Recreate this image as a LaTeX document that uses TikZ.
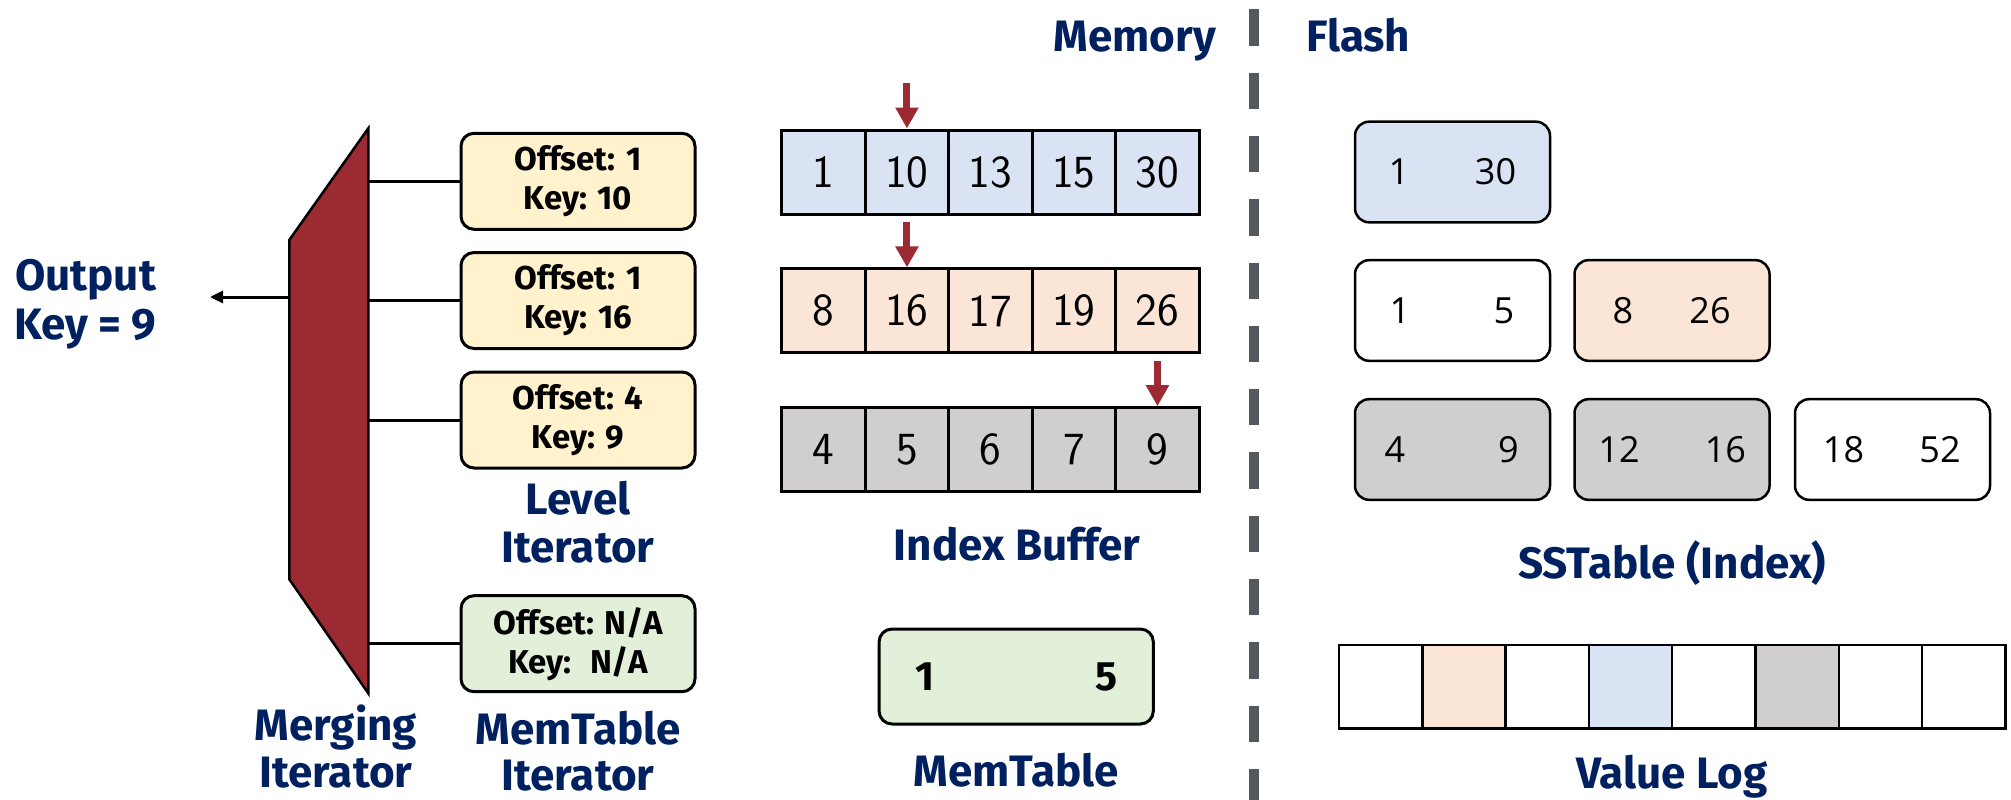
\documentclass[tikz,border=0pt]{standalone}
\usepackage{fontspec}
\setmainfont{Fira Sans}
\newfontfamily\numfont{Open Sans}
\usetikzlibrary{arrows.meta}
\definecolor{navy}{HTML}{002060}
\definecolor{mred}{HTML}{9C2A32}
\definecolor{blueF}{HTML}{DAE3F3}
\definecolor{peachF}{HTML}{FBE5D6}
\definecolor{grayF}{HTML}{D0CECE}
\definecolor{yellowF}{HTML}{FFF2CC}
\definecolor{greenF}{HTML}{E2F0D9}
\definecolor{dashgray}{HTML}{55585C}
\begin{document}
\begin{tikzpicture}[x=1pt,y=-1pt,
  title/.style={font=\bfseries\fontsize{44}{48}\selectfont, text=navy, inner sep=0pt, anchor=base},
  iterbox/.style={draw=black, line width=3pt, rounded corners=13pt, minimum width=234pt,
    minimum height=96pt, align=center, inner sep=0pt, font=\bfseries\fontsize{33}{39}\selectfont},
  cell/.style={draw=black, line width=3pt, minimum width=83.5pt, minimum height=84pt,
    inner sep=0pt, font=\sffamily\fontsize{46}{46}\selectfont},
  sst/.style={draw=black, line width=2.5pt, rounded corners=14pt, minimum width=195pt,
    minimum height=100.6pt, inner sep=0pt},
  sstnum/.style={font=\numfont\fontsize{36}{36}\selectfont, inner sep=0pt},
  memnum/.style={font=\bfseries\fontsize{41}{41}\selectfont, inner sep=0pt},
  vcell/.style={draw=black, line width=2.5pt, minimum width=83.3pt, minimum height=83.3pt, inner sep=0pt},
  redarrow/.style={draw=mred, line width=7pt, -{Triangle[length=21pt,width=22pt]}},
  link/.style={draw=black, line width=3pt}
]
\useasboundingbox (0,0) rectangle (2011,800);

% ---------- memory / flash divider ----------
\coordinate (dvTop) at (1254,9.3);
\coordinate (dvBot) at (1254,800);
\draw[line width=9.3pt, color=dashgray, dash pattern=on 36.3pt off 27pt] (dvTop) -- (dvBot);
\node[title] (memL) at (1135,51.7) {Memory};
\node[title, anchor=base west] (flashL) at (1306,51.7) {Flash};

% ---------- merging iterator ----------
\coordinate (mgTR) at (368.3,128.3);
\coordinate (mgBR) at (368.3,693.3);
\coordinate (mgBL) at (289.3,579.3);
\coordinate (mgTL) at (289.3,240);
\draw[fill=mred, line width=2.5pt, line join=miter] (mgTR) -- (mgBR) -- (mgBL) -- (mgTL) -- cycle;

\coordinate (outStart) at (289.3,297);
\coordinate (outTip) at (210,297);
\draw[link, -{Triangle[length=13pt,width=12pt]}] (outStart) -- (outTip);
\node[title] (outA) at (85.5,290) {Output};
\node[title] (outB) at (85.5,339) {Key = 9};

% ---------- iterators ----------
\node[iterbox, fill=yellowF] (it1) at (578,181.3) {Offset: 1\\Key: 10};
\node[iterbox, fill=yellowF] (it2) at (578,300.5) {Offset: 1\\Key: 16};
\node[iterbox, fill=yellowF] (it3) at (578,420) {Offset: 4\\Key: 9};
\node[iterbox, fill=greenF] (it4) at (578,643.7) {Offset: N/A\\Key:~ N/A};
\foreach \k in {1,2,3,4} \draw[link] (it\k.west -| mgTR) -- (it\k.west);

\node[title] (lvlA) at (578,514) {Level};
\node[title] (lvlB) at (578,562) {Iterator};
\node[title] (mrgA) at (336,740) {Merging};
\node[title] (mrgB) at (336,787) {Iterator};
\node[title] (mtiA) at (578,744) {MemTable};
\node[title] (mtiB) at (578,790) {Iterator};

% ---------- index buffer ----------
\foreach \v [count=\i] in {1,10,13,15,30}
  \node[cell, fill=blueF] (ba\i) at ({781.7+83.5*(\i-0.5)},172) {\v};
\foreach \v [count=\i] in {8,16,17,19,26}
  \node[cell, fill=peachF] (bb\i) at ({781.7+83.5*(\i-0.5)},310.9) {\v};
\foreach \v [count=\i] in {4,5,6,7,9}
  \node[cell, fill=grayF] (bc\i) at ({781.7+83.5*(\i-0.5)},449.7) {\v};

\coordinate (pa) at (906.95,82.7);
\coordinate (pb) at (906.95,221.7);
\coordinate (pc) at (1157.45,360.7);
\draw[redarrow] (pa) -- (ba2.north);
\draw[redarrow] (pb) -- (bb2.north);
\draw[redarrow] (pc) -- (bc5.north);
\node[title] (ibL) at (1017,560) {Index Buffer};

% ---------- memtable ----------
\node[draw=black, line width=3pt, rounded corners=13pt, minimum width=274.3pt, minimum height=95pt,
  fill=greenF] (mt) at (1016.2,676.5) {};
\node[memnum] (mtA) at ([xshift=-91pt]mt.center) {1};
\node[memnum] (mtB) at ([xshift=90.5pt]mt.center) {5};
\node[title] (mtL) at (1016,786.7) {MemTable};

% ---------- sstables ----------
\node[sst, fill=blueF] (s11) at (1452.5,172) {};
\node[sst, fill=white] (s21) at (1452.5,310.5) {};
\node[sst, fill=peachF] (s22) at (1672,310.5) {};
\node[sst, fill=grayF] (s31) at (1452.5,449.5) {};
\node[sst, fill=grayF] (s32) at (1672,449.5) {};
\node[sst, fill=white] (s33) at (1892.5,449.5) {};
\node[sstnum] at ([xshift=-53.5pt]s11.center) {1};
\node[sstnum] at ([xshift=43pt]s11.center) {30};
\node[sstnum] at ([xshift=-52.5pt]s21.center) {1};
\node[sstnum] at ([xshift=51.5pt]s21.center) {5};
\node[sstnum] at ([xshift=-49pt]s22.center) {8};
\node[sstnum] at ([xshift=38pt]s22.center) {26};
\node[sstnum] at ([xshift=-57.5pt]s31.center) {4};
\node[sstnum] at ([xshift=56pt]s31.center) {9};
\node[sstnum] at ([xshift=-53pt]s32.center) {12};
\node[sstnum] at ([xshift=53.4pt]s32.center) {16};
\node[sstnum] at ([xshift=-49pt]s33.center) {18};
\node[sstnum] at ([xshift=47.5pt]s33.center) {52};
\node[title] (sstL) at (1672,578) {SSTable (Index)};

% ---------- value log ----------
\foreach \c [count=\i] in {white,peachF,white,blueF,white,grayF,white,white}
  \node[vcell, fill=\c] (v\i) at ({1339+83.3*(\i-0.5)},686.7) {};
\node[title] (vlL) at (1672,788) {Value Log};
\end{tikzpicture}
\end{document}
